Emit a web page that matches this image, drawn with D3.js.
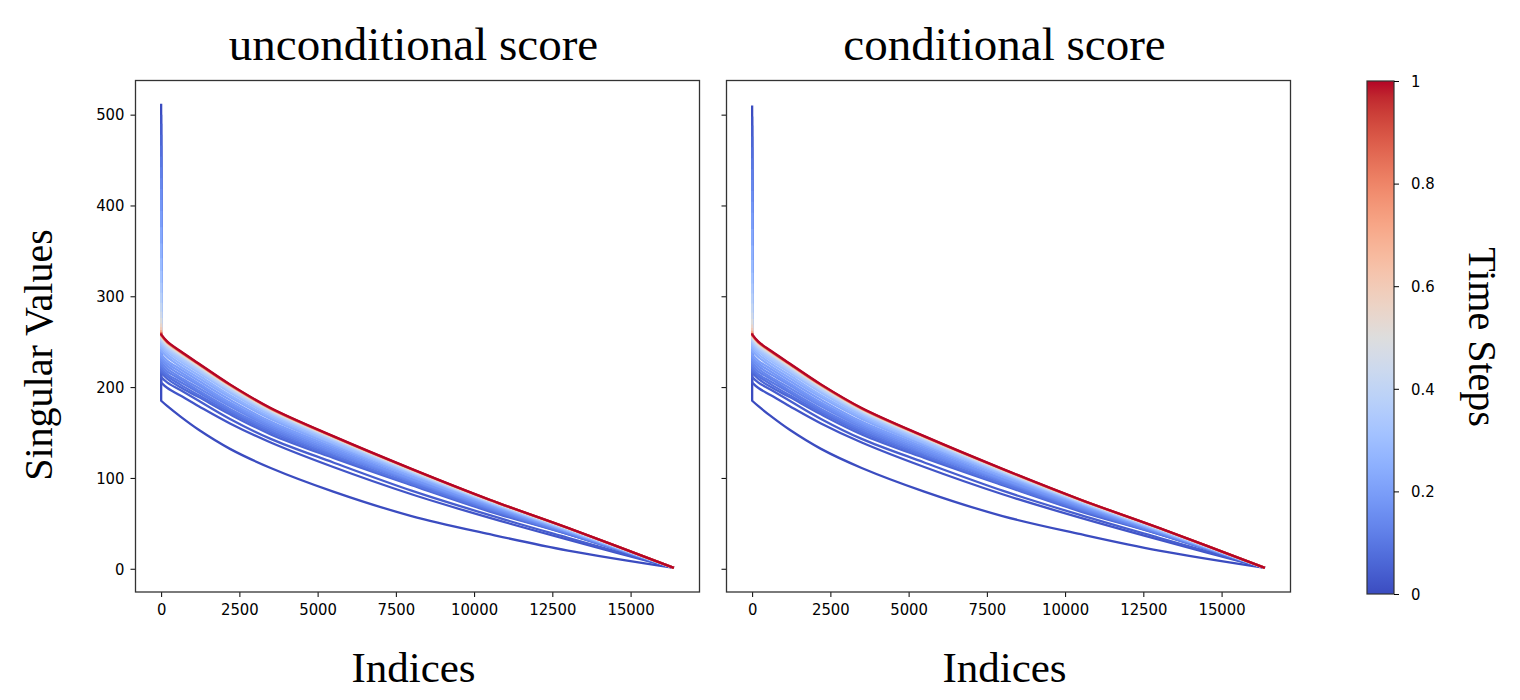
<!DOCTYPE html>
<html><head><meta charset="utf-8">
<script src="https://cdn.jsdelivr.net/npm/d3@7"></script>
<style>body{margin:0;background:#fff} svg{display:block}</style>
</head><body><svg id="c" width="1520" height="700"></svg>
<script>
// ---------- data ----------
const sampleIndices = [0, 1, 200, 600, 1200, 2200, 3500, 5500, 8000, 10500, 13000, 16383];
const timeSteps = [0, 0.02, 0.04, 0.06, 0.08, 0.10, 0.12, 0.14, 0.16, 0.18, 0.20, 0.23, 0.26, 0.29, 0.32, 0.35, 0.38, 0.42, 0.46, 0.50, 0.55, 0.60, 0.70, 0.80, 0.90, 1.00];
// value at index 0 (the spike) per time step
const unconditionalFirst = [512, 500, 490, 478, 466, 454, 442, 430, 418, 406, 394, 376, 358, 342, 328, 315, 304, 293, 283, 276, 270, 266, 263, 261, 260, 259];
const conditionalFirst   = [510, 498, 488, 476, 464, 452, 440, 428, 416, 404, 392, 374, 356, 340, 326, 314, 303, 292, 282, 275, 269, 265, 262, 260, 259.5, 259];
// values at sampleIndices[1..] per time step
const tailValues = [
  [185, 179, 168, 153, 132, 111, 85, 58, 38, 20, 1],
  [205, 199, 191, 179, 160, 139, 112, 82, 56, 32, 1],
  [211, 205, 197, 185, 165, 143, 117, 86, 59, 34, 1],
  [216, 209, 200, 189, 170, 148, 122, 92, 63, 38, 1],
  [218, 212, 203, 191, 172, 150, 124, 93, 64, 38, 1],
  [221, 214, 206, 194, 174, 152, 125, 94, 65, 39, 1],
  [224, 217, 209, 196, 176, 154, 127, 96, 66, 39, 1],
  [227, 220, 211, 199, 179, 156, 128, 97, 67, 40, 1],
  [230, 223, 214, 202, 181, 158, 130, 98, 68, 40, 1],
  [233, 226, 217, 204, 183, 160, 132, 99, 69, 41, 1],
  [236, 229, 220, 207, 186, 162, 134, 101, 70, 41, 1],
  [240, 233, 223, 210, 189, 165, 136, 102, 71, 42, 1],
  [243, 236, 226, 213, 191, 167, 138, 104, 72, 42, 1],
  [246, 239, 229, 216, 194, 169, 139, 105, 73, 43, 1],
  [249, 241, 231, 218, 196, 171, 141, 106, 73, 43, 1],
  [251, 243, 233, 219, 197, 172, 142, 107, 74, 44, 1],
  [252, 244, 235, 221, 198, 173, 143, 107, 74, 44, 1],
  [254, 246, 236, 222, 200, 174, 144, 108, 75, 44, 1],
  [254.5, 246.5, 236.6, 222.8, 200.2, 174.5, 144, 108.5, 75, 44.4, 1],
  [255.4, 247.5, 237.6, 223.7, 201, 175.2, 144.5, 108.9, 75.2, 44.6, 1],
  [256, 248, 238, 224.2, 201.4, 175.6, 144.8, 109.1, 75.4, 44.6, 1],
  [256.5, 248.5, 238.6, 224.6, 201.8, 175.9, 145.1, 109.3, 75.5, 44.7, 1],
  [257, 249, 239, 225.1, 202.2, 176.3, 145.4, 109.6, 75.7, 44.8, 1],
  [257.2, 249.3, 239.3, 225.3, 202.4, 176.5, 145.6, 109.7, 75.8, 44.9, 1],
  [257.5, 249.5, 239.5, 225.5, 202.6, 176.6, 145.7, 109.8, 75.9, 44.9, 1],
  [258, 250, 240, 226, 203, 177, 146, 110, 76, 45, 1]
];
const xTicks = [0, 2500, 5000, 7500, 10000, 12500, 15000];
const yTicks = [0, 100, 200, 300, 400, 500];
const cbTicks = [0, 0.2, 0.4, 0.6, 0.8, 1];
const panelTitles = ["unconditional score", "conditional score"];
const coolwarmStops = ["#3b4cc0","#445acc","#4d68d7","#5775e1","#6282ea","#6c8ef1","#779af7","#82a5fb","#8db0fe","#98b9ff","#a3c2ff","#aec9fd","#b8d0f9","#c2d5f4","#ccd9ee","#d5dbe6","#dddddd","#e5d8d1","#ecd3c5","#f1ccb9","#f5c4ad","#f7bba0","#f7b194","#f7a687","#f49a7b","#f18d6f","#ec7f63","#e57058","#de604d","#d55042","#cb3e38","#c0282f","#b40426"];

// ---------- drawing ----------
const svg = d3.select('#c');
const color = d3.scaleLinear()
  .domain(coolwarmStops.map((d, i) => i / (coolwarmStops.length - 1)))
  .range(coolwarmStops).interpolate(d3.interpolateRgb);

const plotTop = 80.5, plotBottom = 592;
const panels = [
  {left: 135.5, right: 699.5, first: unconditionalFirst, yLabels: true},
  {left: 726.5, right: 1290.5, first: conditionalFirst, yLabels: false}
];
const serif = "'Liberation Serif','Times New Roman',serif";
const sans = "'DejaVu Sans Condensed','DejaVu Sans',sans-serif";
const tickFont = 16.5;

panels.forEach((p, pi) => {
  const x = d3.scaleLinear().domain([-819.15, 17202.15]).range([p.left, p.right]);
  const y = d3.scaleLinear().domain([-25.6, 537.6]).range([plotBottom, plotTop]);
  const cid = 'clip' + pi;
  svg.append('clipPath').attr('id', cid).append('rect')
    .attr('x', p.left).attr('y', plotTop).attr('width', p.right - p.left).attr('height', plotBottom - plotTop);
  const g = svg.append('g').attr('clip-path', `url(#${cid})`);
  const spikeLine = d3.line().x(d => x(d[0])).y(d => y(d[1]));
  const tailLine = d3.line().x(d => x(d[0])).y(d => y(d[1])).curve(d3.curveCatmullRom.alpha(0.5));
  timeSteps.forEach((t, k) => {
    const vals = [p.first[k]].concat(tailValues[k]);
    const pts = sampleIndices.map((ix, j) => [ix, vals[j]]);
    const d = spikeLine(pts.slice(0, 2)) + tailLine(pts.slice(1)).replace(/^M/, 'L');
    g.append('path').attr('d', d).attr('fill', 'none')
      .attr('stroke', color(t)).attr('stroke-width', 2.3).attr('stroke-linejoin', 'round');
  });
  // axes
  const xa = svg.append('g').attr('transform', `translate(0,${plotBottom})`)
    .call(d3.axisBottom(x).tickValues(xTicks).tickSize(5).tickPadding(6).tickFormat(d3.format('d')));
  xa.select('.domain').remove();
  xa.selectAll('text').attr('font-family', sans).attr('font-size', tickFont).attr('fill', '#000');
  xa.selectAll('line').attr('stroke', '#000');
  const ya = svg.append('g').attr('transform', `translate(${p.left},0)`)
    .call(d3.axisLeft(y).tickValues(yTicks).tickSize(5).tickPadding(6).tickFormat(p.yLabels ? d3.format('d') : ''));
  ya.select('.domain').remove();
  ya.selectAll('text').attr('font-family', sans).attr('font-size', tickFont).attr('fill', '#000');
  ya.selectAll('line').attr('stroke', '#000');
  // frame
  svg.append('rect').attr('x', p.left).attr('y', plotTop).attr('width', p.right - p.left)
    .attr('height', plotBottom - plotTop).attr('fill', 'none').attr('stroke', '#333').attr('stroke-width', 1.3);
  // title and xlabel
  const cx = (p.left + p.right) / 2 - 4;
  svg.append('text').attr('x', cx).attr('y', 60).attr('text-anchor', 'middle')
    .attr('font-family', serif).attr('font-size', 47).text(panelTitles[pi]);
  svg.append('text').attr('x', cx).attr('y', 682).attr('text-anchor', 'middle')
    .attr('font-family', serif).attr('font-size', 43).text('Indices');
});

svg.append('text').attr('transform', 'translate(52,355) rotate(-90)').attr('text-anchor', 'middle')
  .attr('font-family', serif).attr('font-size', 40).text('Singular Values');

// colorbar
const cbL = 1367, cbR = 1394, cbT = 81, cbB = 594;
const grad = svg.append('defs').append('linearGradient').attr('id', 'cbg')
  .attr('x1', 0).attr('y1', 1).attr('x2', 0).attr('y2', 0);
coolwarmStops.forEach((c, i) => grad.append('stop').attr('offset', i / (coolwarmStops.length - 1)).attr('stop-color', c));
svg.append('rect').attr('x', cbL).attr('y', cbT).attr('width', cbR - cbL).attr('height', cbB - cbT)
  .attr('fill', 'url(#cbg)').attr('stroke', '#333').attr('stroke-width', 1.2);
const cy = d3.scaleLinear().domain([0, 1]).range([cbB, cbT]);
const ca = svg.append('g').attr('transform', `translate(${cbR},0)`)
  .call(d3.axisRight(cy).tickValues(cbTicks).tickSize(5).tickPadding(12).tickFormat(d => d === 0 || d === 1 ? String(d) : d.toFixed(1)));
ca.select('.domain').remove();
ca.selectAll('text').attr('font-family', sans).attr('font-size', tickFont).attr('fill', '#000');
ca.selectAll('line').attr('stroke', '#000');
svg.append('text').attr('transform', 'translate(1469,337) rotate(90)').attr('text-anchor', 'middle')
  .attr('font-family', serif).attr('font-size', 40).text('Time Steps');
</script></body></html>
